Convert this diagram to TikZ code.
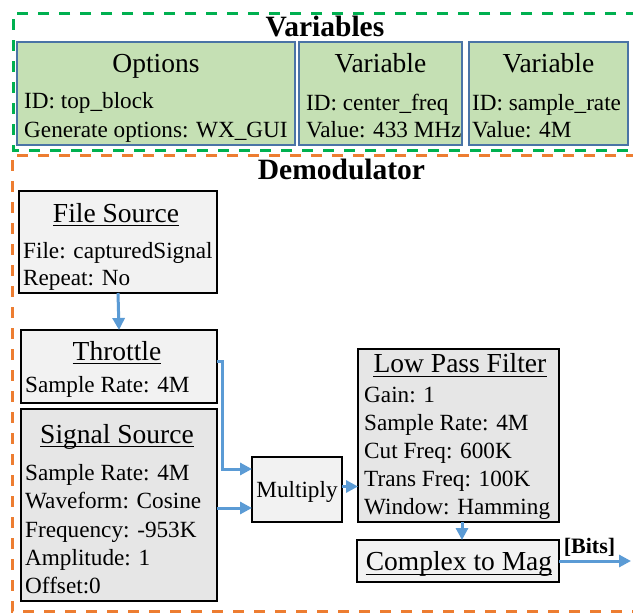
\documentclass[tikz,border=0pt]{standalone}
\usepackage{fontspec}
\setmainfont{Liberation Serif}
\usetikzlibrary{arrows.meta}
\definecolor{grn}{HTML}{00B050}
\definecolor{org}{HTML}{ED7D31}
\definecolor{varfill}{HTML}{C5E0B4}
\definecolor{varline}{HTML}{4A74A6}
\definecolor{arr}{HTML}{5B9BD5}
\definecolor{lgray}{HTML}{F2F2F2}
\definecolor{dgray}{HTML}{E6E6E6}
\newcommand\bodyf{\fontsize{23.2}{28}\selectfont}
\newcommand\ttlf{\fontsize{27.5}{33}\selectfont}
\newcommand\headf{\fontsize{29.5}{35}\selectfont\bfseries}
\tikzset{
  grp/.style={line width=3pt, dash pattern=on 11pt off 10pt},
  varbox/.style={draw=varline, fill=varfill, line width=2pt, inner sep=0pt, outer sep=0pt},
  lbox/.style={draw=black, fill=lgray, line width=1.8pt, inner sep=0pt, outer sep=0pt},
  dbox/.style={draw=black, fill=dgray, line width=2.2pt, inner sep=0pt, outer sep=0pt},
  ttl/.style={font=\ttlf, inner sep=0pt, anchor=base},
  bod/.style={font=\bodyf, inner sep=0pt, anchor=base west},
  head/.style={font=\headf, inner sep=0pt, anchor=base},
  ulin/.style={line width=1.3pt},
  flow/.style={draw=arr, line width=3pt, -{Triangle[length=12pt,width=12pt]}},
}
\begin{document}
\begin{tikzpicture}[x=1pt, y=-1pt]
\clip (0,0) rectangle (633,613);
\fill[white] (0,0) rectangle (633,613);
% group frames
\draw[grp, grn] (700,13) -- (13,13) -- (13,150) -- (700,150);
\draw[grp, org] (700,155) -- (12,155) -- (12,611) -- (700,611);
\node[head] (hvar) at (325,37) {Variables};
\node[head] (hdem) at (341.5,179) {Demodulator};
% variables
\node[varbox, minimum width=278pt, minimum height=103pt] (opt) at (156,93.5) {};
\node[varbox, minimum width=163pt, minimum height=103pt] (var1) at (380.5,93.5) {};
\node[varbox, minimum width=159pt, minimum height=103pt] (var2) at (548.5,93.5) {};
\node[ttl] (optt) at (156,72.5) {Options};
\node[bod] (opt1) at (24,108) {ID: top\_block};
\node[bod] (opt2) at (24,137) {Generate options: WX\_GUI};
\node[ttl] (var1t) at (380.5,72) {Variable};
\node[bod] (var1a) at (306,110) {ID: center\_freq};
\node[bod] (var1b) at (306,137) {Value: 433 MHz};
\node[ttl] (var2t) at (548.5,72) {Variable};
\node[bod] (var2a) at (472,110) {ID: sample\_rate};
\node[bod] (var2b) at (472,137) {Value: 4M};
% blocks
\node[lbox, minimum width=198pt, minimum height=102pt] (fs) at (118,242) {};
\node[lbox, minimum width=196pt, minimum height=73pt] (thr) at (119,366.5) {};
\node[dbox, minimum width=196pt, minimum height=192pt] (sig) at (119,505) {};
\node[lbox, minimum width=90pt, minimum height=65pt] (mul) at (297,489.5) {};
\node[dbox, minimum width=201pt, minimum height=173pt] (lpf) at (458.5,435.5) {};
\node[lbox, minimum width=202pt, minimum height=42pt] (c2m) at (458,561) {};
% File Source
\node[ttl] (fst) at (116,222) {File Source};
\node[bod] (fs1) at (23,258) {File: capturedSignal};
\node[bod] (fs2) at (23,285) {Repeat: No};
% Throttle
\node[ttl] (thrt) at (117,360) {Throttle};
\node[bod] (thr1) at (25,392.7) {Sample Rate: 4M};
% Signal Source
\node[ttl] (sigt) at (117,443) {Signal Source};
\node[bod] (sig1) at (25,480) {Sample Rate: 4M};
\node[bod] (sig2) at (25,508) {Waveform: Cosine};
\node[bod] (sig3) at (25,537) {Frequency: -953K};
\node[bod] (sig4) at (25,565) {Amplitude: 1};
\node[bod] (sig5) at (25,593) {Offset:0};
% Multiply
\node[font=\bodyf, inner sep=0pt, anchor=base] (mult) at (297,497) {Multiply};
% Low Pass Filter
\node[ttl] (lpft) at (460,372.7) {Low Pass Filter};
\node[bod] (lpf1) at (364,402) {Gain: 1};
\node[bod] (lpf2) at (364,430) {Sample Rate: 4M};
\node[bod] (lpf3) at (364,458) {Cut Freq: 600K};
\node[bod] (lpf4) at (364,486) {Trans Freq: 100K};
\node[bod] (lpf5) at (364,514) {Window: Hamming};
% Complex to Mag
\node[ttl] (c2mt) at (459,570.7) {Complex to Mag};
% underlines
\foreach \t in {fst,thrt,sigt,lpft,c2mt}
  \draw[ulin] ([yshift=-3.5pt]\t.base west) -- ([yshift=-3.5pt]\t.base east);
% connectors
\draw[flow] (fs.south) -- (thr.north);
\draw[flow] ([yshift=5.5pt]thr.east) -- ++(5,0) |- ([yshift=20.5pt]mul.west);
\draw[flow] ([yshift=-3pt]sig.east) -- ([yshift=-3pt]sig.east -| mul.west);
\draw[flow] ([yshift=3pt]mul.east) -- ([yshift=3pt]mul.east -| lpf.west);
\draw[flow] ([xshift=3.5pt]lpf.south) -- ([xshift=3.5pt]lpf.south |- c2m.north);
\coordinate (out) at (631,561);
\draw[flow] (c2m.east) -- (out);
\node[font=\fontsize{22}{26}\selectfont\bfseries, inner sep=0pt, anchor=base] (bits) at (589.5,553) {[Bits]};
\end{tikzpicture}
\end{document}
